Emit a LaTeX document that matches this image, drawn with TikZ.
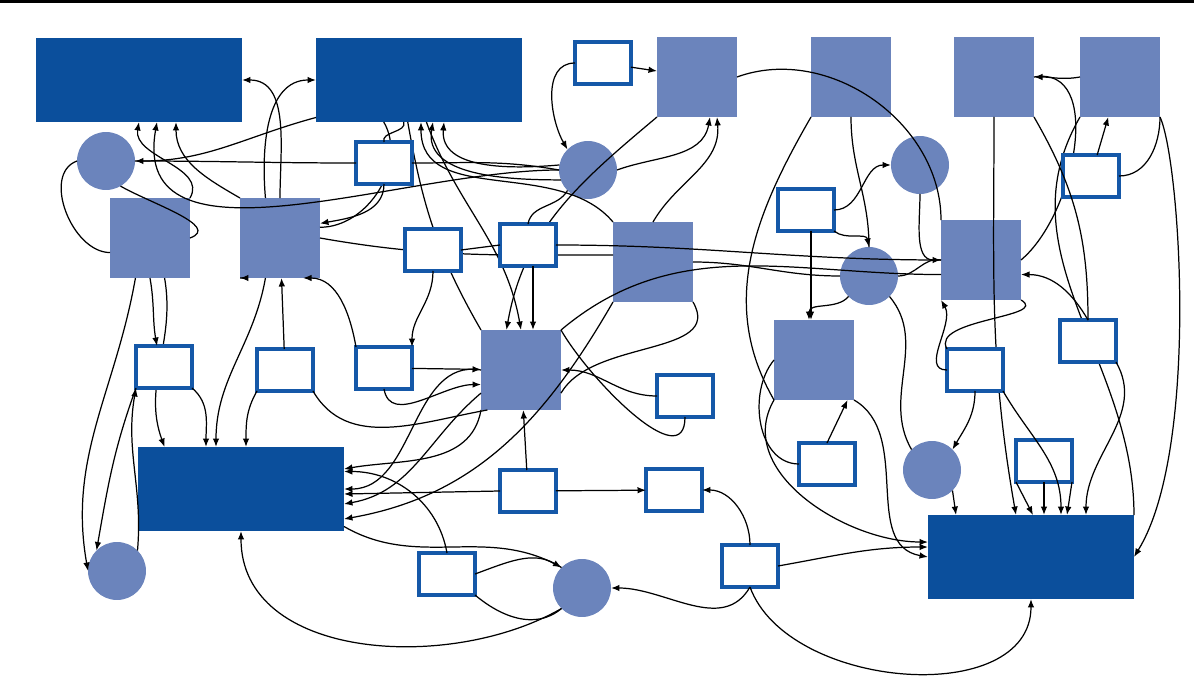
\documentclass[tikz,border=0pt]{standalone}
\usetikzlibrary{arrows.meta}
\definecolor{dkblue}{HTML}{0B4F9C}
\definecolor{ltblue}{HTML}{6B84BC}
\definecolor{rimblue}{HTML}{1558A8}
\begin{document}
\begin{tikzpicture}[x=0.02cm,y=-0.02cm,
    dark/.style={fill=dkblue,minimum width=4.12cm,minimum height=1.68cm,inner sep=0,outer sep=0},
    sq/.style={fill=ltblue,minimum size=1.6cm,inner sep=0,outer sep=0},
    blob/.style={circle,fill=ltblue,minimum size=1.16cm,inner sep=0,outer sep=0},
    wbox/.style={draw=rimblue,line width=1.8pt,fill=white,minimum width=1.12cm,minimum height=0.84cm,inner sep=0,outer sep=0},
    link/.style={black,line width=0.7pt},
    arr/.style={link,-{Latex[length=1.7mm,width=1.3mm]}}]
    \useasboundingbox (0,0) rectangle (1194,686);
    \fill[black] (0,0) rectangle (1194,3);

    %big boxes
    \node[dark] (top1) at (139,80) {};
    \node[dark] (top2) at (419,80) {};
    \node[dark] (low1) at (241,489) {};
    \node[dark] (low2) at (1031,557) {};

    %squares
    \node[sq] (s1) at (697,77) {};
    \node[sq] (s2) at (851,77) {};
    \node[sq] (s3) at (994,77) {};
    \node[sq] (s4) at (1120,77) {};
    \node[sq] (s5) at (150,238) {};
    \node[sq] (s6) at (280,238) {};
    \node[sq] (s7) at (653,262) {};
    \node[sq] (s8) at (981,260) {};
    \node[sq] (s9) at (521,370) {};
    \node[sq] (s10) at (814,360) {};

    %circles
    \node[blob] (c1) at (106,161) {};
    \node[blob] (c2) at (588,170) {};
    \node[blob] (c3) at (920,165) {};
    \node[blob] (c4) at (869,276) {};
    \node[blob] (c5) at (932,470) {};
    \node[blob] (c6) at (117,571) {};
    \node[blob] (c7) at (582,588) {};

    %edges (drawn before white boxes)
    \draw[arr] (s6.north) to[out=90,in=0] (top1.east);
    \draw[arr] (s6.110) to[out=95,in=180] (top2.west);
    \draw[arr] (top2.200) to[out=195,in=0] (c1.east);
    \draw[arr] (s6.north west) to[out=150,in=-90] ([xshift=0.74cm]top1.south);
    \draw[arr] (c2.west) to[out=180,in=-100] ([xshift=0.36cm]top1.south);
    \draw[arr] (s5.north east) to[out=60,in=-100] ([xshift=0cm]top1.south);
    \draw[arr] (c2.170) to[out=185,in=-95] ([xshift=0.5cm]top2.south);
    \draw[arr] (c2.200) to[out=180,in=-100] ([xshift=0.28cm]top2.south);
    \draw[arr] (s7.north west) to[out=130,in=-90] ([xshift=0.04cm]top2.south);
    \draw[link] (top2.255) to[out=-80,in=120] (s9.north west);
    \draw[arr] (top2.280) to[out=-70,in=100] (s9.north);
    \draw[arr] (c2.east) to[out=20,in=-100] ([xshift=0.26cm]s1.south);
    \draw[arr] (s7.north) to[out=60,in=-85] ([xshift=0.4cm]s1.south);
    \draw[arr] (s1.south west) to[out=220,in=80] (s9.110);
    \draw[link] (c1.west) to[out=200,in=180] (s5.200);
    \draw[link] (s5.east) to[out=20,in=-30] (c1.300);
    \draw[arr] (s5.250) to[out=-100,in=100] (c6.west);
    \draw[arr] (s5.290) to[out=-80,in=110] (s5.290 |- low1.north);
    \draw[arr] (s6.250) to[out=-100,in=90] ([xshift=-0.5cm]low1.north);
    \draw[arr] (s6.south west) to[out=-110,in=0] ([xshift=1cm]s5.south east);
    \draw[link] (s6.east) to[out=-10,in=180] (s7.170);
    \draw[link] (top2.230) to[out=-60,in=0] (s6.15);
    \draw[link] (s7.east) to[out=0,in=180] (c4.west);
    \draw[link] (c4.east) to[out=0,in=170] (s8.west);
    \draw[link] (s7.south east) to[out=-60,in=60] (s9.330);
    \draw[arr] (s9.west) to[out=170,in=0] (low1.east);
    \draw[arr] (s9.210) to[out=220,in=10] ([yshift=-0.3cm]low1.east);
    \draw[arr] (s7.south west) to[out=-120,in=10] ([yshift=-0.6cm]low1.east);
    \draw[arr] (s9.south west) to[out=-100,in=10] ([yshift=0.4cm]low1.east);
    \draw[link] (s9.north east) to[out=40,in=180] (s8.200);
    \draw[arr] (c4.south west) to[out=-130,in=90] ([xshift=-0.1cm]s10.north);
    \draw[arr] (c3.south) to[out=-90,in=180] (s8.west);
    \draw[link] (s2.south west) to[out=-120,in=120] (s10.south west);
    \draw[link] (s2.south) to[out=-90,in=90] (c4.north);
    \draw[link] (s1.east) to[out=20,in=90] (s8.north west);
    \draw[arr] (s4.west) to[out=190,in=0] (s3.east);
    \draw[arr] (s4.south east) .. controls (1180,160) and (1200,450) .. (low2.east);
    \draw[link] (s4.south west) to[out=-120,in=90] (low2.north east);
    \draw[arr] (s3.south) to[out=-90,in=100] ([xshift=-0.3cm]low2.north);
    \draw[link] (s3.east) to[out=10,in=40] (s8.east);
    \draw[arr] (s10.south east) to[out=-30,in=170] (low2.west);
    \draw[arr] (s10.south west) to[out=-120,in=180] ([yshift=0.3cm]low2.west);
    \draw[arr] (c5.south east) -- ([xshift=-1.5cm]low2.north);
    \draw[link] (c4.south east) to[out=-50,in=120] (c5.north west);
    \draw[arr] (c7.south west) to[out=-150,in=-90] (low1.south);
    \draw[link] (c7.north west) to[out=150,in=-30] (low1.340);

    %small boxes
    \node[wbox] (b1) at (603,63) {};
    \node[wbox] (b2) at (384,163) {};
    \node[wbox] (b3) at (433,250) {};
    \node[wbox] (b4) at (528,245) {};
    \node[wbox] (b5) at (806,210) {};
    \node[wbox] (b6) at (1091,176) {};
    \node[wbox] (b7) at (164,367) {};
    \node[wbox] (b8) at (285,370) {};
    \node[wbox] (b9) at (384,368) {};
    \node[wbox] (b10) at (685,396) {};
    \node[wbox] (b11) at (975,370) {};
    \node[wbox] (b12) at (1088,341) {};
    \node[wbox] (b13) at (827,464) {};
    \node[wbox] (b14) at (1044,461) {};
    \node[wbox] (b15) at (528,491) {};
    \node[wbox] (b16) at (674,490) {};
    \node[wbox] (b17) at (447,574) {};
    \node[wbox] (b18) at (750,566) {};

    %edges of small boxes
    \draw[arr] (s5.south) to[out=-80,in=100] ([xshift=-0.14cm]b7.north);
    \draw[arr] (c6.north east) to[out=85,in=-100] (b7.south west);
    \draw[arr] (b1) -- (s1);
    \draw[arr] (b1.west) to[out=180,in=120] (c2.north west);
    \draw[link] (b2.north) to[out=110,in=-70] (top2.250);
    \draw[arr] (b2.south) to[out=-90,in=10] (s6.20);
    \draw[link] (b2.east) to[out=0,in=170] (c2.west);
    \draw[link] (b2.west) to[out=180,in=0] (c1.east);
    \draw[arr] (b3.south) to[out=-90,in=90] (b9.north east);
    \draw[link] (b3.east) -- (b4.west);
    \draw[arr] ([xshift=0.1cm]b4.south) -- ([xshift=0.1cm]b4.south |- s9.north);
    \draw[link] (b4.north) to[out=80,in=-120] (c2.south west);
    \draw[link] (b4.east) to[out=0,in=180] (s8.west);
    \draw[arr] (b9.north west) to[out=100,in=0] (s6.300);
    \draw[arr] (b9) -- (s9);
    \draw[arr] (b9.south) to[out=-80,in=180] (s9.200);
    \draw[arr] (b8) -- (s6);
    \draw[arr] (b8.south west) to[out=-120,in=90] ([xshift=0.1cm]low1.north);
    \draw[link] (b8.south east) to[out=-60,in=190] (s9.230);
    \draw[arr] (b7.south east) to[out=-40,in=90] ([xshift=-0.7cm]low1.north);
    \draw[arr] (b7.south west) to[out=-110,in=80] (c6.north west);
    \draw[arr] (b10.west) to[out=180,in=0] (s9.east);
    \draw[link] (b10.south) to[out=-90,in=-60] (s9.north east);
    \draw[arr] (b15) -- (s9);
    \draw[arr] (b15) -- (b16);
    \draw[arr] (b15.west) -- ([yshift=-0.1cm]low1.east);
    \draw[arr] (b17.north) to[out=100,in=0] ([yshift=0.35cm]low1.east);
    \draw[arr] (b17.east) to[out=20,in=150] (c7.north west);
    \draw[arr] (b18.south) to[out=-120,in=0] (c7.east);
    \draw[arr] (b18.north) to[out=90,in=0] (b16.east);
    \draw[arr] (b18.east) to[out=10,in=180] ([yshift=0.2cm]low2.west);
    \draw[arr] (b18.south) to[out=-70,in=-90] (low2.south);
    \draw[link] (b17.south east) to[out=-40,in=-140] (c7.south west);
    \draw[arr] ([xshift=0.1cm]b5.south) -- ([xshift=0.1cm]b5.south |- s10.north);
    \draw[arr] (b5.east) to[out=0,in=180] (c3.west);
    \draw[arr] (b5.south east) to[out=-40,in=100] (c4.north);
    \draw[arr] (b13.north) -- (s10.310);
    \draw[link] (b13.west) to[out=180,in=-130] (s10.west);
    \draw[arr] (b6) -- (s4);
    \draw[link] (b6.east) to[out=0,in=-90] (s4.south east);
    \draw[arr] (b12.north) to[out=120,in=0] (s8.340);
    \draw[arr] (b11.south) to[out=-90,in=60] (c5.north east);
    \draw[arr] (b11.south east) to[out=-60,in=90] ([xshift=0.6cm]low2.north);
    \draw[arr] (b11.west) to[out=180,in=-60] (s8.south west);
    \draw[arr] (b14.south west) -- ([xshift=0.04cm]low2.north);
    \draw[arr] (b14.south) -- (b14.south |- low2.north);
    \draw[arr] (b14.south east) -- ([xshift=0.72cm]low2.north);
    \draw[arr] (b12.south east) to[out=-60,in=90] ([xshift=1.1cm]low2.north);
    \draw[link] (b12.north) to[out=90,in=-60] (s3.south east);
    \draw[link] (s8.south east) to[out=-30,in=120] (b11.north west);
\end{tikzpicture}
\end{document}
